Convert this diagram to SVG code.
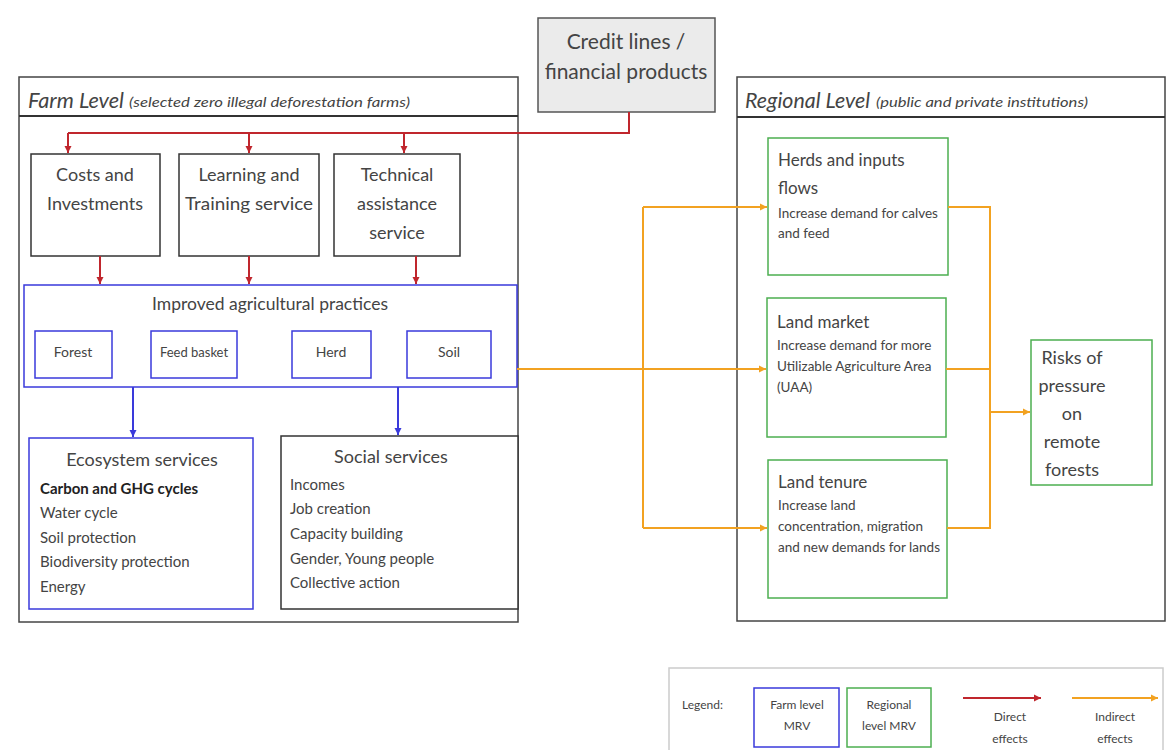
<svg xmlns="http://www.w3.org/2000/svg" width="1176" height="750" viewBox="0 0 1176 750">
<defs>
<style>
text{font-family:Lato,"Open Sans","Liberation Sans",sans-serif;fill:#444}
.c{text-anchor:middle}
.frame{fill:#fff;stroke:#444;stroke-width:1.5}
.blk{fill:#fff;stroke:#333;stroke-width:1.5}
.blue{fill:#fff;stroke:#3a3adb;stroke-width:1.5}
.green{fill:#fff;stroke:#4caf50;stroke-width:1.5}
.red{fill:none;stroke:#c0262d;stroke-width:2}
.blu{fill:none;stroke:#3a3adb;stroke-width:2}
.org{fill:none;stroke:#f2a221;stroke-width:2}
.t18{font-size:18px}
.t17{font-size:17px}
.t15{font-size:15px}
.t14{font-size:14px}
.t13{font-size:13.5px}
.t12{font-size:12px}
.it{font-style:italic}
</style>
<marker id="ar" markerUnits="userSpaceOnUse" markerWidth="8" markerHeight="8" refX="7" refY="4" orient="auto"><path d="M0,0.5 L7,4 L0,7.5z" fill="#c0262d"/></marker>
<marker id="ab" markerUnits="userSpaceOnUse" markerWidth="8" markerHeight="8" refX="7" refY="4" orient="auto"><path d="M0,0.5 L7,4 L0,7.5z" fill="#3a3adb"/></marker>
<marker id="ao" markerUnits="userSpaceOnUse" markerWidth="8" markerHeight="8" refX="7" refY="4" orient="auto"><path d="M0,0.5 L7,4 L0,7.5z" fill="#f2a221"/></marker>
</defs>
<rect width="1176" height="750" fill="#fff"/>

<g id="farm-level">
<rect class="frame" x="19" y="77" width="499" height="545"/>
<line x1="19" y1="116" x2="518" y2="116" stroke="#333" stroke-width="2"/>
<text x="28" y="108" class="it" font-size="21" textLength="96" lengthAdjust="spacingAndGlyphs">Farm Level</text>
<text x="129" y="107" class="it" font-size="14" textLength="281" lengthAdjust="spacingAndGlyphs">(selected zero illegal deforestation farms)</text>
</g>

<g id="regional-level">
<rect class="frame" x="737" y="77" width="428" height="544"/>
<line x1="737" y1="117" x2="1165" y2="117" stroke="#333" stroke-width="2"/>
<text x="745" y="108" class="it" font-size="21" textLength="125" lengthAdjust="spacingAndGlyphs">Regional Level</text>
<text x="876" y="107" class="it" font-size="14" textLength="212" lengthAdjust="spacingAndGlyphs">(public and private institutions)</text>
</g>

<g id="credit">
<rect x="538" y="18" width="177" height="94" fill="#ebebeb" stroke="#555" stroke-width="1.5"/>
<text x="626" y="49" class="c" font-size="21">Credit lines /</text>
<text x="626" y="79" class="c" font-size="21">financial products</text>
</g>

<g id="costs">
<rect class="blk" x="31" y="154" width="129" height="102"/>
<text x="95" y="181" class="c t18">Costs and</text>
<text x="95" y="210" class="c t18">Investments</text>
</g>
<g id="learning">
<rect class="blk" x="179" y="154" width="140" height="102"/>
<text x="249" y="181" class="c t18">Learning and</text>
<text x="249" y="210" class="c t18" textLength="128" lengthAdjust="spacingAndGlyphs">Training service</text>
</g>
<g id="technical">
<rect class="blk" x="334" y="154" width="126" height="102"/>
<text x="397" y="181" class="c t18">Technical</text>
<text x="397" y="210" class="c t18">assistance</text>
<text x="397" y="239" class="c t18">service</text>
</g>

<g id="improved">
<rect class="blue" x="24" y="285" width="493" height="102"/>
<text x="270" y="310" class="c" font-size="17.5">Improved agricultural practices</text>
</g>
<g id="forest"><rect class="blue" x="35" y="331" width="77" height="47"/><text x="73" y="357" class="c t14">Forest</text></g>
<g id="feed"><rect class="blue" x="151" y="331" width="86" height="47"/><text x="194" y="357" class="c" font-size="13">Feed basket</text></g>
<g id="herd"><rect class="blue" x="292" y="331" width="79" height="47"/><text x="331" y="357" class="c t14">Herd</text></g>
<g id="soil"><rect class="blue" x="407" y="331" width="84" height="47"/><text x="449" y="357" class="c t14">Soil</text></g>

<g id="ecosystem">
<rect class="blue" x="29" y="438" width="224" height="171"/>
<text x="142" y="466" class="c t18">Ecosystem services</text>
<text x="40" y="494" class="t15" font-weight="bold" style="fill:#222">Carbon and GHG cycles</text>
<text x="40" y="518" class="t15">Water cycle</text>
<text x="40" y="543" class="t15">Soil protection</text>
<text x="40" y="567" class="t15">Biodiversity protection</text>
<text x="40" y="592" class="t15">Energy</text>
</g>
<g id="social">
<rect class="blk" x="281" y="436" width="237" height="173"/>
<text x="391" y="463" class="c t18">Social services</text>
<text x="290" y="490" class="t15">Incomes</text>
<text x="290" y="514" class="t15">Job creation</text>
<text x="290" y="539" class="t15">Capacity building</text>
<text x="290" y="564" class="t15">Gender, Young people</text>
<text x="290" y="588" class="t15">Collective action</text>
</g>

<g id="herds-flows">
<rect class="green" x="768" y="138" width="180" height="137"/>
<text x="778" y="166" class="t17">Herds and inputs</text>
<text x="778" y="194" class="t17">flows</text>
<text x="778" y="218" class="t13">Increase demand for calves</text>
<text x="778" y="238" class="t13">and feed</text>
</g>
<g id="land-market">
<rect class="green" x="767" y="298" width="179" height="139"/>
<text x="777" y="328" class="t17">Land market</text>
<text x="777" y="350" class="t13">Increase demand for more</text>
<text x="777" y="371" class="t13">Utilizable Agriculture Area</text>
<text x="777" y="392" class="t13">(UAA)</text>
</g>
<g id="land-tenure">
<rect class="green" x="768" y="460" width="179" height="138"/>
<text x="778" y="488" class="t17">Land tenure</text>
<text x="778" y="510" class="t13">Increase land</text>
<text x="778" y="531" class="t13">concentration, migration</text>
<text x="778" y="552" class="t13" textLength="162" lengthAdjust="spacingAndGlyphs">and new demands for lands</text>
</g>
<g id="risks">
<rect class="green" x="1031" y="340" width="121" height="145"/>
<text x="1072" y="364" class="c t18">Risks of</text>
<text x="1072" y="392" class="c t18">pressure</text>
<text x="1072" y="420" class="c t18">on</text>
<text x="1072" y="448" class="c t18">remote</text>
<text x="1072" y="476" class="c t18">forests</text>
</g>

<g id="connectors">
<path class="red" d="M629 112 V133 H68"/>
<path class="red" d="M68 133 V153" marker-end="url(#ar)"/>
<path class="red" d="M249 133 V153" marker-end="url(#ar)"/>
<path class="red" d="M404 133 V153" marker-end="url(#ar)"/>
<path class="red" d="M100 256 V284" marker-end="url(#ar)"/>
<path class="red" d="M249 256 V284" marker-end="url(#ar)"/>
<path class="red" d="M416 256 V284" marker-end="url(#ar)"/>
<path class="blu" d="M133 387 V437" marker-end="url(#ab)"/>
<path class="blu" d="M398 387 V435" marker-end="url(#ab)"/>
<path class="org" stroke-width="3" d="M517 369 H766" marker-end="url(#ao)"/>
<path class="org" d="M643 207 V528"/>
<path class="org" d="M643 207 H767" marker-end="url(#ao)"/>
<path class="org" d="M643 528 H767" marker-end="url(#ao)"/>
<path class="org" d="M948 207 H990 V528 H947"/>
<path class="org" d="M946 369 H990"/>
<path class="org" stroke-width="3" d="M990 412 H1030" marker-end="url(#ao)"/>
</g>

<g id="legend">
<rect x="669" y="668" width="494" height="84" fill="#fff" stroke="#ccc" stroke-width="1.5"/>
<text x="682" y="709" class="t12">Legend:</text>
<rect class="blue" x="754" y="688" width="85" height="59"/>
<text x="797" y="709" class="c t12">Farm level</text>
<text x="797" y="730" class="c t12">MRV</text>
<rect class="green" x="847" y="688" width="84" height="59"/>
<text x="889" y="709" class="c t12">Regional</text>
<text x="889" y="730" class="c t12">level MRV</text>
<path class="red" d="M963 698 H1041" marker-end="url(#ar)"/>
<text x="1010" y="721" class="c t12">Direct</text>
<text x="1010" y="743" class="c t12">effects</text>
<path class="org" d="M1072 698 H1158" marker-end="url(#ao)"/>
<text x="1115" y="721" class="c t12">Indirect</text>
<text x="1115" y="743" class="c t12">effects</text>
</g>
</svg>
